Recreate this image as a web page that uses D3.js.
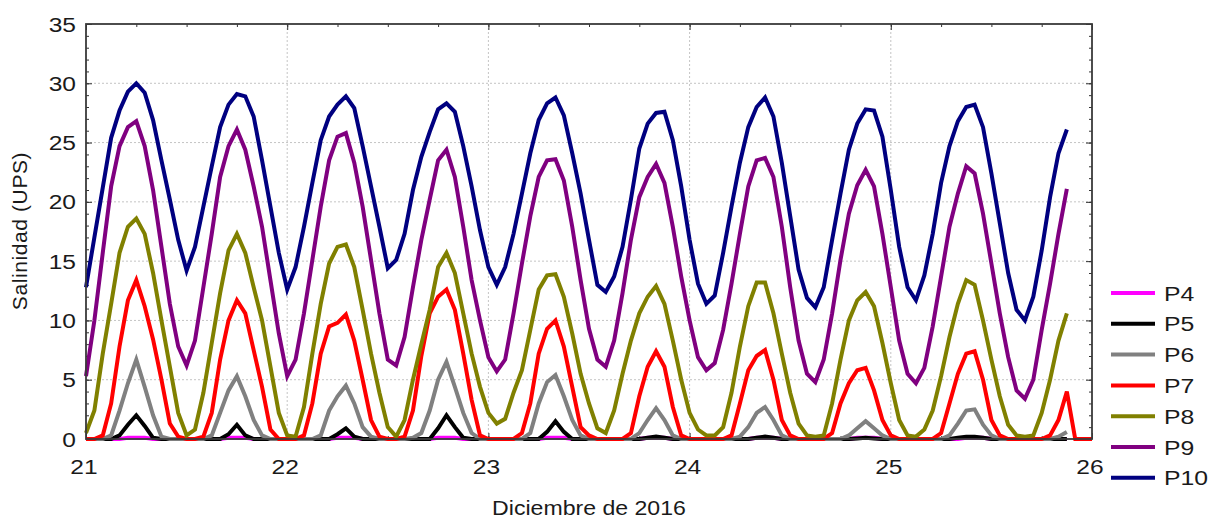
<!DOCTYPE html>
<html lang="es">
<head>
<meta charset="UTF-8">
<title>Salinidad</title>
<style>
  body { margin: 0; background: #fff; }
  text { font-family: "Liberation Sans", Arial, sans-serif; fill: #1a1a1a; }
</style>
</head>
<body>
<script src="https://d3js.org/d3.v7.min.js"></script>
<script>
// hourly samples starting 21 Dec 2016 00:00
const names = ["P4", "P5", "P6", "P7", "P8", "P9", "P10"];
const colors = ["#ff00ff", "#000000", "#808080", "#ff0000", "#808000", "#800080", "#000080"];
const yTicks = [0, 5, 10, 15, 20, 25, 30, 35];
const xTicks = [21, 22, 23, 24, 25, 26];

const p4 = [
  0,0,0,0,0,0.1,0.1,0.1,0,0,
  0,0,0,0,0,0,0,0.1,0.1,0.1,
  0,0,0,0,0,0,0,0,0,0,
  0.1,0.1,0.1,0,0,0,0,0,0,0,
  0,0,0.1,0.1,0.1,0,0,0,0,0,
  0,0,0,0,0,0.1,0.1,0.1,0,0,
  0,0,0,0,0,0,0,0.1,0.1,0.1,
  0,0,0,0,0,0,0,0,0,0,
  0.1,0.1,0.1,0,0,0,0,0,0,0,
  0,0,0.1,0.1,0.1,0,0,0,0,0,
  0,0,0,0,0,0.1,0.1,0.1,0,0,
  0,0,0,0,0,0,0,0];
const p5 = [
  0,0,0,0,0.3,1.2,2.0,1.1,0.1,0,
  0,0,0,0,0,0,0,0.4,1.2,0.3,
  0,0,0,0,0,0,0,0,0,0,
  0.4,0.9,0.2,0,0,0,0,0,0,0,
  0,0,0.9,2.0,1.0,0.1,0,0,0,0,
  0,0,0,0,0,0.6,1.5,0.6,0,0,
  0,0,0,0,0,0,0,0.1,0.2,0.1,
  0,0,0,0,0,0,0,0,0,0,
  0.1,0.2,0.1,0,0,0,0,0,0,0,
  0,0,0.05,0.1,0.05,0,0,0,0,0,
  0,0,0,0,0.1,0.2,0.2,0.1,0,0,
  0,0,0,0,0,0,0,0];
const p6 = [
  0,0,0,0.3,2.4,4.7,6.7,4.4,2.0,0.2,
  0,0,0,0,0,0.3,2.2,4.1,5.3,3.6,
  1.6,0.3,0,0,0,0,0,0,0.3,2.4,
  3.6,4.5,3.0,1.0,0.2,0,0,0,0,0.1,
  0.5,2.4,5.0,6.5,4.4,2.2,0.5,0,0,0,
  0,0,0,0.5,3.0,4.8,5.4,3.6,1.6,0.3,
  0,0,0,0,0,0,0.5,1.6,2.6,1.6,
  0.3,0,0,0,0,0,0,0,0.2,1.0,
  2.2,2.7,1.6,0.3,0,0,0,0,0,0,
  0,0.3,0.9,1.5,0.9,0.3,0,0,0,0,
  0,0,0,0.3,1.3,2.4,2.5,1.2,0.3,0,
  0,0,0,0,0,0,0.2,0.6];
const p7 = [
  0,0,0.3,3.0,7.8,11.7,13.4,11.2,8.4,5.0,
  1.3,0.2,0,0,0.2,2.2,6.7,10.0,11.7,10.6,
  7.5,4.4,0.8,0,0,0,0.3,3.0,7.2,9.5,
  9.8,10.5,8.3,5.0,1.6,0.2,0,0,0.2,2.4,
  7.0,10.6,12.0,12.6,10.9,7.2,3.3,0.3,0,0,
  0,0,0.5,3.0,7.2,9.3,10.0,7.8,4.4,1.0,
  0.3,0,0,0,0,0.5,3.6,6.1,7.4,6.1,
  2.7,0.3,0,0,0,0,0,0.3,3.0,5.8,
  7.0,7.5,5.0,1.6,0.3,0,0,0,0,0.5,
  3.0,4.7,5.8,6.0,4.1,1.6,0.3,0,0,0,
  0,0,0.5,3.0,5.5,7.2,7.4,5.0,1.6,0.3,
  0,0,0,0,0,0.3,1.6,4.0,0,0,
  0];
const p8 = [
  0.5,2.4,7.2,11.4,15.7,17.9,18.6,17.3,14.0,10.0,
  6.1,2.2,0.3,0.8,3.9,8.1,12.3,15.9,17.3,15.7,
  12.8,10.0,6.1,2.2,0.3,0.2,2.7,7.2,11.4,14.8,
  16.2,16.4,14.5,10.9,7.2,3.9,1.0,0.2,1.6,5.0,
  8.0,10.9,14.5,15.7,14.0,10.6,7.2,4.4,2.2,1.3,
  1.7,3.9,5.8,9.2,12.6,13.8,13.9,12.0,8.9,5.5,
  3.0,0.9,0.5,2.4,5.5,8.3,10.6,12.0,12.9,11.4,
  8.3,5.0,2.2,0.8,0.3,0.3,1.0,3.9,7.8,11.2,
  13.2,13.2,10.6,7.2,3.9,1.3,0.3,0.2,0.3,3.0,
  6.7,10.0,11.7,12.4,11.2,8.1,4.7,1.6,0.3,0.2,
  0.8,2.4,5.3,8.6,11.4,13.4,13.0,10.0,6.7,3.6,
  1.2,0.3,0.2,0.3,2.2,5.0,8.3,10.6];
const p9 = [
  5.3,10.0,15.7,21.3,24.7,26.3,26.8,24.7,21.0,16.2,
  11.4,7.8,6.2,8.3,12.8,17.3,22.1,24.7,26.1,24.4,
  21.3,17.9,13.4,8.9,5.3,6.7,10.6,15.1,19.6,23.5,
  25.5,25.8,23.3,19.6,15.1,10.6,6.7,6.2,8.6,12.8,
  16.8,20.2,23.5,24.4,22.1,17.9,13.4,10.0,6.9,5.7,
  6.7,10.6,14.8,18.8,22.1,23.5,23.6,21.8,17.9,13.4,
  9.3,6.7,6.1,8.3,12.3,16.8,20.4,22.1,23.2,21.6,
  17.9,13.7,10.0,6.9,5.8,6.4,9.2,13.1,17.3,21.3,
  23.5,23.7,22.1,17.9,12.8,8.3,5.5,4.8,6.7,10.6,
  15.1,19.0,21.4,22.7,21.3,17.3,12.8,8.3,5.5,4.7,
  6.0,9.5,13.7,17.9,20.7,23.0,22.4,19.0,14.8,10.6,
  6.9,4.1,3.4,5.0,9.2,13.1,17.3,21.1];
const p10 = [
  12.8,17.0,21.2,25.4,27.7,29.3,30.0,29.2,26.9,23.5,
  20.2,16.8,14.2,16.2,19.6,23.0,26.3,28.2,29.1,28.9,
  27.2,23.5,19.6,15.7,12.6,14.5,17.9,21.6,25.2,27.2,
  28.2,28.9,27.9,24.7,21.3,17.9,14.4,15.1,17.3,21.0,
  23.8,25.9,27.8,28.3,27.6,24.7,21.3,17.6,14.5,13.0,
  14.5,17.3,20.7,24.1,26.9,28.3,28.8,27.3,24.1,20.7,
  16.8,13.0,12.4,13.7,16.2,20.2,24.5,26.6,27.5,27.6,
  25.2,21.3,16.8,13.1,11.4,12.1,15.7,19.6,23.3,26.3,
  28.0,28.8,27.2,23.3,18.8,14.3,11.9,11.1,12.8,16.8,
  20.7,24.4,26.6,27.8,27.7,25.5,21.0,16.2,12.8,11.7,
  13.8,17.3,21.6,24.7,26.8,28.0,28.2,26.3,22.4,18.2,
  14.0,10.9,10.0,12.0,15.9,20.4,24.1,26.1];

const series = [p4, p5, p6, p7, p8, p9, p10];

const width = 1215, height = 521;
const mLeft = 86, mRight = 1092, mTop = 24, mBottom = 439;

const svg = d3.select("body").append("svg")
    .attr("width", width)
    .attr("height", height);

const x = d3.scaleLinear().domain([21, 26]).range([mLeft, mRight]);
const y = d3.scaleLinear().domain([0, 35]).range([mBottom, mTop]);

// grid
svg.append("g")
    .selectAll("line")
    .data(yTicks.slice(1, -1))
    .join("line")
    .attr("x1", mLeft).attr("x2", mRight)
    .attr("y1", d => y(d)).attr("y2", d => y(d))
    .attr("stroke", "#c4c4c4")
    .attr("stroke-dasharray", "2,2");
svg.append("g")
    .selectAll("line")
    .data(xTicks.slice(1, -1))
    .join("line")
    .attr("y1", mTop).attr("y2", mBottom)
    .attr("x1", d => x(d)).attr("x2", d => x(d))
    .attr("stroke", "#c4c4c4")
    .attr("stroke-dasharray", "2,2");

// minor / major ticks on the 4 sides (pointing inward)
const yMinor = d3.range(0, 36);
const xMinor = d3.range(21, 26.01, 0.25);
function ticks(axis, pos) {
  const g = svg.append("g").attr("transform", pos).call(axis);
  g.select(".domain").remove();
  g.selectAll("line").attr("stroke", "#333");
  return g;
}
ticks(d3.axisLeft(y).tickValues(yMinor).tickSize(-3).tickFormat(""), `translate(${mLeft},0)`);
ticks(d3.axisRight(y).tickValues(yMinor).tickSize(-3).tickFormat(""), `translate(${mRight},0)`);
ticks(d3.axisLeft(y).tickValues(yTicks).tickSize(-6).tickFormat(""), `translate(${mLeft},0)`);
ticks(d3.axisRight(y).tickValues(yTicks).tickSize(-6).tickFormat(""), `translate(${mRight},0)`);
ticks(d3.axisTop(x).tickValues(xMinor).tickSize(-3).tickFormat(""), `translate(0,${mTop})`);
ticks(d3.axisBottom(x).tickValues(xMinor).tickSize(-3).tickFormat(""), `translate(0,${mBottom})`);
ticks(d3.axisTop(x).tickValues(xTicks).tickSize(-6).tickFormat(""), `translate(0,${mTop})`);
ticks(d3.axisBottom(x).tickValues(xTicks).tickSize(-6).tickFormat(""), `translate(0,${mBottom})`);

// tick labels (the reference glyphs are a bit wider than Liberation Sans)
svg.append("g").selectAll("text")
    .data(yTicks)
    .join("text")
    .attr("transform", d => `translate(${mLeft - 10},${y(d)}) scale(1.17,1)`)
    .attr("dy", "0.36em")
    .attr("text-anchor", "end")
    .style("font-size", "21px")
    .text(d => d);
svg.append("g").selectAll("text")
    .data(xTicks)
    .join("text")
    .attr("transform", d => `translate(${x(d) - 2},${mBottom + 35}) scale(1.17,1)`)
    .attr("text-anchor", "middle")
    .style("font-size", "21px")
    .text(d => d);

// lines
const line = d3.line()
    .x((d, i) => x(21 + i / 24))
    .y(d => y(d));

svg.append("g")
    .selectAll("path")
    .data(series)
    .join("path")
    .attr("d", d => line(d))
    .attr("fill", "none")
    .attr("stroke", (d, i) => colors[i])
    .attr("stroke-width", 4)
    .attr("stroke-linejoin", "miter");

// frame
svg.append("rect")
    .attr("x", mLeft).attr("y", mTop)
    .attr("width", mRight - mLeft).attr("height", mBottom - mTop)
    .attr("fill", "none")
    .attr("stroke", "#3a3a3a")
    .attr("stroke-width", 1.8);

// axis titles
svg.append("text")
    .attr("transform", `translate(${(mLeft + mRight) / 2},515) scale(1.1,1)`)
    .attr("text-anchor", "middle")
    .style("font-size", "21px")
    .text("Diciembre de 2016");
svg.append("text")
    .attr("transform", "translate(27,231) rotate(-90)")
    .attr("text-anchor", "middle")
    .style("font-size", "21px")
    .style("letter-spacing", "0.6px")
    .text("Salinidad (UPS)");

// legend
const legend = svg.append("g")
    .selectAll("g")
    .data(names)
    .join("g")
    .attr("transform", (d, i) => `translate(1111,${293 + i * 30.8})`);
legend.append("line")
    .attr("x1", 0).attr("x2", 44)
    .attr("stroke", (d, i) => colors[i])
    .attr("stroke-width", 4);
legend.append("text")
    .attr("transform", "translate(53,0) scale(1.18,1)")
    .attr("dy", "0.36em")
    .style("font-size", "21px")
    .text(d => d);
</script>
</body>
</html>
